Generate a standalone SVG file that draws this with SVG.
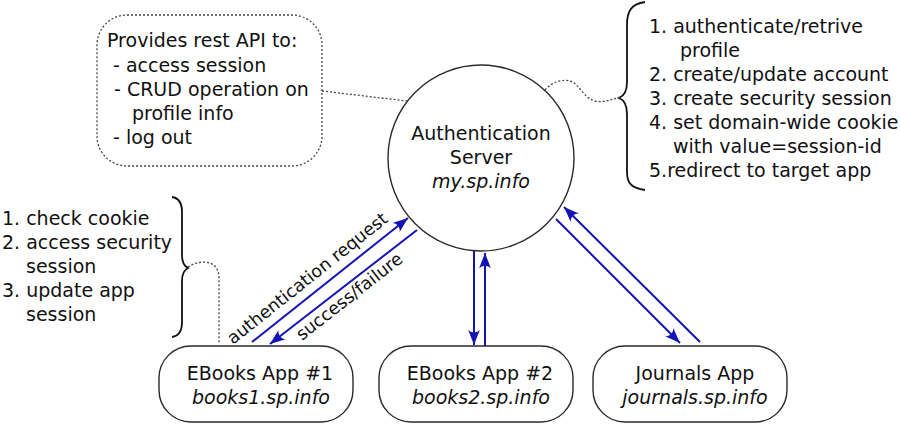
<svg xmlns="http://www.w3.org/2000/svg" width="900" height="440" viewBox="0 0 900 440">
<defs>
<style>
text{font-family:"DejaVu Sans","Liberation Sans",sans-serif;font-size:19px;fill:#111}
.it{font-style:italic}
.mid{text-anchor:middle}
.node{fill:none;stroke:#2a2a2a;stroke-width:1.4}
.dot{fill:none;stroke:#444;stroke-width:1.3;stroke-dasharray:2,2}
.brace{fill:none;stroke:#111;stroke-width:1.8}
.conn{fill:none;stroke:#1414b4;stroke-width:2;marker-end:url(#ah)}
.lbl{font-size:17.5px}
</style>
<marker id="ah" markerUnits="userSpaceOnUse" markerWidth="20" markerHeight="20" viewBox="-15 -8 17 16" refX="0" refY="0" orient="auto">
<path d="M0,0 L-13,-5 C-10,-2 -10,2 -13,5 Z" fill="#1414b4"/>
</marker>
</defs>
<rect width="900" height="440" fill="#fff"/>

<g id="auth-server">
<circle class="node" cx="481" cy="158" r="93"/>
<text class="mid" x="481" y="140">Authentication</text>
<text class="mid" x="481" y="164">Server</text>
<text class="mid it" x="481" y="188">my.sp.info</text>
</g>

<g id="api-note">
<rect class="dot" x="97" y="15" width="225" height="151" rx="30"/>
<text x="107" y="47">Provides rest API to:</text>
<text x="113" y="72">- access session</text>
<text x="114" y="96">- CRUD operation on</text>
<text x="132" y="120">profile info</text>
<text x="113" y="144">- log out</text>
</g>

<g id="server-steps">
<path class="brace" d="M645,2 C632,4 627,10 627,25 L627,82 C627,92 624,96 619,98 C624,100 627,104 627,114 L627,172 C627,184 632,188 645,190"/>
<text x="649" y="33">1. authenticate/retrive</text>
<text x="680" y="57">profile</text>
<text x="649" y="81">2. create/update account</text>
<text x="649" y="105">3. create security session</text>
<text x="649" y="129">4. set domain-wide cookie</text>
<text x="673" y="153">with value=session-id</text>
<text x="649" y="177">5.redirect to target app</text>
</g>

<g id="app-steps">
<path class="brace" d="M172,197 C179,198 182,203 182,212 L182,255 C182,262 184,266 188,268 C184,270 182,274 182,281 L182,322 C182,331 179,336 172,337"/>
<text x="2" y="225">1. check cookie</text>
<text x="2" y="249">2. access security</text>
<text x="26" y="273">session</text>
<text x="2" y="297">3. update app</text>
<text x="26" y="321">session</text>
</g>

<g id="ebooks1">
<rect class="node" x="159" y="346" width="194" height="76" rx="32"/>
<text class="mid" x="260" y="380">EBooks App #1</text>
<text class="mid it" x="261" y="404">books1.sp.info</text>
</g>

<g id="ebooks2">
<rect class="node" x="379" y="346" width="194" height="76" rx="32"/>
<text class="mid" x="480" y="380">EBooks App #2</text>
<text class="mid it" x="481" y="404">books2.sp.info</text>
</g>

<g id="journals">
<rect class="node" x="593" y="346" width="194" height="76" rx="32"/>
<text class="mid" x="695" y="380">Journals App</text>
<text class="mid it" x="695" y="404">journals.sp.info</text>
</g>

<g id="connectors">
<path class="dot" d="M322,91 L407,101"/>
<path class="dot" d="M545,90 C552,82 562,79 570,81 C580,84 583,98 595,101 C605,103 612,99 621,97"/>
<path class="dot" d="M188,267 C198,260 219,258 219,278 L219,344"/>
<path class="conn" d="M252,342 L408,218"/>
<path class="conn" d="M417,230 L270,344"/>
<path class="conn" d="M474,251 L474,345"/>
<path class="conn" d="M485,346 L485,253"/>
<path class="conn" d="M556,219 L680,343"/>
<path class="conn" d="M700,342 L564,207"/>
<text class="lbl mid" transform="translate(311,283) rotate(-38.5)">authentication request</text>
<text class="lbl mid" transform="translate(353,301) rotate(-38)">success/failure</text>
</g>
</svg>
